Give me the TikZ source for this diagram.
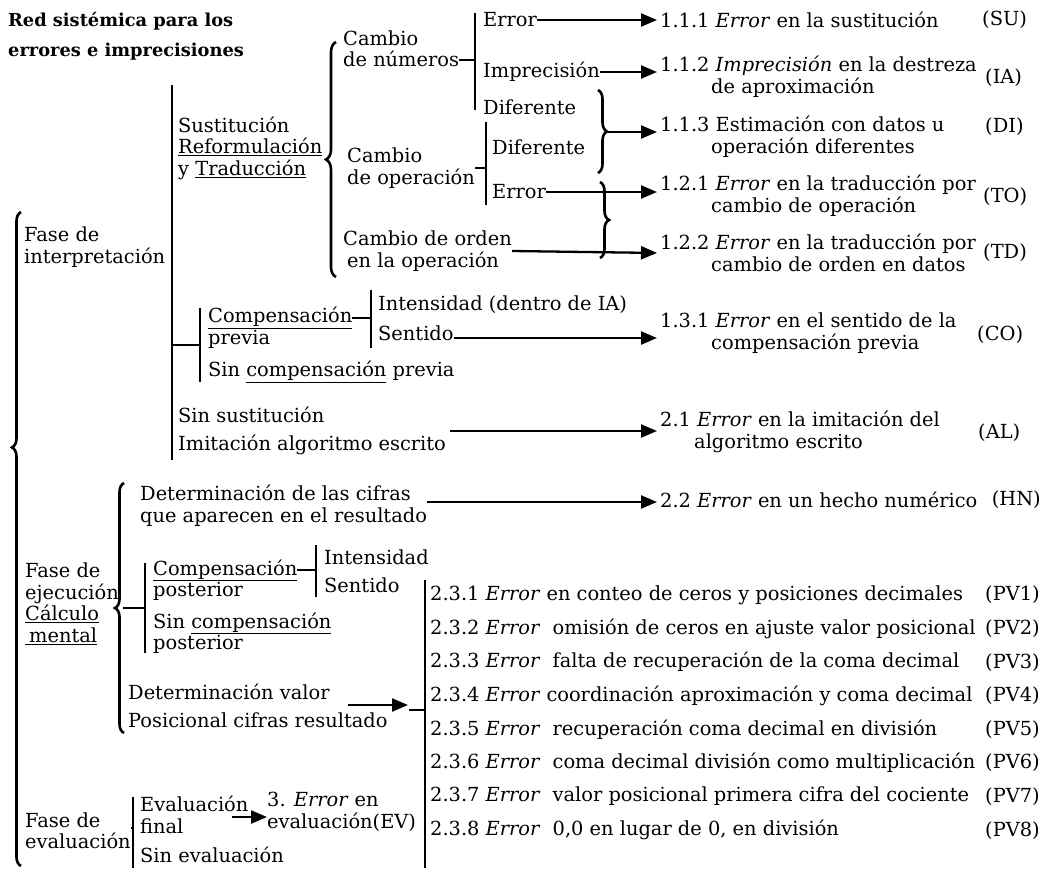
\documentclass[tikz,border=0pt]{standalone}
\usepackage{fontspec}
\setmainfont{DejaVu Serif}
\usetikzlibrary{arrows.meta,decorations.pathreplacing}
\newcommand{\fsz}{\fontsize{19.4}{21.5}\selectfont}
\newcommand{\uln}[1]{\underline{#1}}
\begin{document}
\begin{tikzpicture}[x=1pt,y=-1pt,
  txt/.style={inner sep=0pt,anchor=west,align=left,font=\fsz},
  lab/.style={inner sep=0pt,anchor=west,font=\fsz},
  bar/.style={line width=2.9pt},
  ln/.style={line width=2.5pt},
  arr/.style={line width=2.3pt,-{Triangle[length=16pt,width=13pt]},shorten >=3pt},
  brc/.style={decorate,decoration={brace,amplitude=9pt,raise=0pt},line width=2.6pt},
]
\useasboundingbox[fill=white] (0,0) rectangle (1044,868);

% title
\node[txt,font=\fontsize{17.8}{29.5}\selectfont\bfseries] (title) at (8,36) {Red sistémica para los\\errores e imprecisiones};

% level 1
\node[txt] (fi) at (24,247) {Fase de\\interpretación};
\node[txt] (fe) at (25,604) {Fase de\\ejecución\\\uln{Cálculo}\\\uln{\hspace*{4pt}mental}};
\node[txt] (fev) at (25,831) {Fase de\\evaluación};
\coordinate (bigt) at (21,212);
\coordinate (bigb) at (21,866);
\draw[brc,decoration={aspect=0.64}] (bigb) -- (bigt);

% interpretation bar
\coordinate (b1t) at (172,85);
\coordinate (b1b) at (172,460);
\draw[bar] (b1t) -- (b1b);

\node[txt] (sust) at (178,148) {Sustitución\\\uln{Reformulación}\\y \uln{Traducción}};
\coordinate (sbt) at (336,42);
\coordinate (sbb) at (336,277);
\draw[brc,decoration={amplitude=10pt}] (sbb) -- (sbt);

\node[txt] (cn) at (343,49) {Cambio\\de números};
\node[txt] (co) at (347,168) {Cambio\\de operación};
\node[txt] (cor) at (343,251) {Cambio de orden\\\hspace*{4pt}en la operación};

% bar after "de números"
\coordinate (b2t) at (475,13);
\coordinate (b2b) at (475,110);
\draw[bar] (b2t) -- (b2b);
\draw[ln] ([yshift=-11pt]cn.east) -- ([yshift=-11pt]cn.east -| b2t);
\node[txt] (e1) at (483,20) {Error};
\node[txt] (i1) at (483,72) {Imprecisión};
\node[txt] (d1) at (483,107) {Diferente};

% bar after "de operación"
\coordinate (b3t) at (486,122);
\coordinate (b3b) at (486,205);
\draw[bar] (b3t) -- (b3b);
\draw[ln] (co.east) -- (co.east -| b3t);
\node[txt] (d2) at (492,147) {Diferente};
\node[txt] (e2) at (492,192) {Error};

% results 1.x
\node[txt] (r111) at (660,20) {1.1.1 \textit{Error} en la sustitución};
\node[txt] (r112) at (660,77) {1.1.2 \textit{Imprecisión} en la destreza\\\hspace*{51pt}de aproximación};
\node[txt] (r113) at (660,137) {1.1.3 Estimación con datos u\\\hspace*{51pt}operación diferentes};
\node[txt] (r121) at (660,196) {1.2.1 \textit{Error} en la traducción por\\\hspace*{51pt}cambio de operación};
\node[txt] (r122) at (660,253) {1.2.2 \textit{Error} en la traducción por\\\hspace*{51pt}cambio de orden en datos};
\node[lab] (su) at (982,20) {(SU)};
\node[lab] (ia) at (985,78) {(IA)};
\node[lab] (di) at (985,127) {(DI)};
\node[lab] (to) at (983,197) {(TO)};
\node[lab] (td) at (983,253) {(TD)};

\draw[arr] (e1.east) -- (e1.east -| r111.west);
\draw[arr] (i1.east) -- (i1.east -| r112.west);
\coordinate (rb1t) at (598,90);
\coordinate (rb1b) at (598,173);
\draw[brc] (rb1t) -- (rb1b);
\coordinate (rb1tip) at (608,132);
\draw[arr] (rb1tip) -- (rb1tip -| r113.west);
\draw[arr] (e2.east) -- (e2.east -| r121.west);
\draw[arr] (cor.east) -- (r122.west);
\coordinate (rb2t) at (600,182);
\coordinate (rb2b) at (600,258);
\draw[brc] (rb2t) -- (rb2b);

% compensacion previa
\coordinate (c4a) at (172,345);
\coordinate (b4t) at (200,308);
\coordinate (b4b) at (200,382);
\draw[bar] (b4t) -- (b4b);
\draw[ln] (c4a) -- (c4a -| b4t);
\node[txt] (cp) at (208,328) {\uln{Compensación}\\previa};
\node[txt] (scp) at (208,372) {Sin \uln{compensación} previa};
\coordinate (b5t) at (371,290);
\coordinate (b5b) at (371,348);
\draw[bar] (b5t) -- (b5b);
\draw[ln] ([yshift=10pt]cp.east) -- ([yshift=10pt]cp.east -| b5t);
\node[txt] (int1) at (378,305) {Intensidad (dentro de IA)};
\node[txt] (sen1) at (378,333) {Sentido};
\node[txt] (r131) at (660,333) {1.3.1 \textit{Error} en el sentido de la\\\hspace*{51pt}compensación previa};
\node[lab] (cop) at (977,335) {(CO)};
\draw[arr] ([yshift=-5pt]sen1.east) -- ([yshift=-5pt]sen1.east -| r131.west);

% sin sustitucion
\node[txt] (ss) at (178,431) {Sin sustitución\\[6pt]Imitación algoritmo escrito};
\node[txt] (r21) at (660,432) {2.1 \textit{Error} en la imitación del\\\hspace*{34pt}algoritmo escrito};
\node[lab] (al) at (978,433) {(AL)};
\draw[arr] ([xshift=4pt]ss.east) -- (ss.east -| r21.west);

% ejecucion
\coordinate (ebt) at (124,483);
\coordinate (ebb) at (124,733);
\draw[brc] (ebb) -- (ebt);
\coordinate (etip) at (114,608);
\node[txt] (det) at (140,506) {Determinación de las cifras\\que aparecen en el resultado};
\node[txt] (r22) at (660,500) {2.2 \textit{Error} en un hecho numérico};
\node[inner sep=0pt,anchor=east,font=\fsz] (hn) at (1041,500) {(HN)};
\draw[arr] ([yshift=4pt]det.east) -- ([yshift=4pt]det.east -| r22.west);

\coordinate (b6t) at (145,563);
\coordinate (b6b) at (145,653);
\draw[bar] (b6t) -- (b6b);
\draw[ln] ([xshift=9pt]etip) -- (etip -| b6t);
\node[txt] (cpo) at (153,580) {\uln{Compensación}\\posterior};
\node[txt] (scpo) at (153,633) {Sin \uln{compensación}\\posterior};
\coordinate (b7t) at (316,545);
\coordinate (b7b) at (316,597);
\draw[bar] (b7t) -- (b7b);
\draw[ln] ([yshift=10pt]cpo.east) -- ([yshift=10pt]cpo.east -| b7t);
\node[txt] (int2) at (324,557) {Intensidad};
\node[txt] (sen2) at (324,585) {Sentido};

\node[txt] (dv) at (128,706) {Determinación valor\\[6pt]Posicional cifras resultado};
\coordinate (dva) at (348,705);
\coordinate (dvb) at (408,705);
\draw[arr,shorten >=0pt] (dva) -- (dvb);
\coordinate (b8t) at (425,580);
\coordinate (b8b) at (425,868);
\coordinate (b8c) at (409,710);
\draw[bar] (b8t) -- (b8b);
\draw[ln] (b8c) -- (b8c -| b8t);

\foreach \n/\t/\l [count=\i from 0] in {
 1/{\textit{Error} en conteo de ceros y posiciones decimales}/PV1,
 2/{\textit{Error}\ \ omisión de ceros en ajuste valor posicional}/PV2,
 3/{\textit{Error}\ \ falta de recuperación de la coma decimal}/PV3,
 4/{\textit{Error} coordinación aproximación y coma decimal}/PV4,
 5/{\textit{Error}\ \ recuperación coma decimal en división}/PV5,
 6/{\textit{Error}\ \ coma decimal división como multiplicación}/PV6,
 7/{\textit{Error}\ \ valor posicional primera cifra del cociente}/PV7,
 8/{\textit{Error}\ \ 0,0 en lugar de 0, en división}/PV8}{
  \node[txt] (pv\n) at (430,595+33.6*\i) {2.3.\n{} \t};
  \node[lab] (pvl\n) at (985,595+33.6*\i) {(\l)};
}

% evaluacion
\coordinate (b9t) at (133,797);
\coordinate (b9b) at (133,868);
\draw[bar] (b9t) -- (b9b);
\draw[ln] ([yshift=3pt]fev.east) -- ([yshift=3pt]fev.east -| b9t);
\node[txt] (ef) at (140,815) {Evaluación\\final};
\node[txt] (se) at (140,855) {Sin evaluación};
\node[txt] (r3) at (267,812) {3. \textit{Error} en\\evaluación(EV)};
\coordinate (efa) at (232,817);
\draw[arr,shorten >=0pt] (efa) -- (efa -| r3.west);
\end{tikzpicture}
\end{document}
